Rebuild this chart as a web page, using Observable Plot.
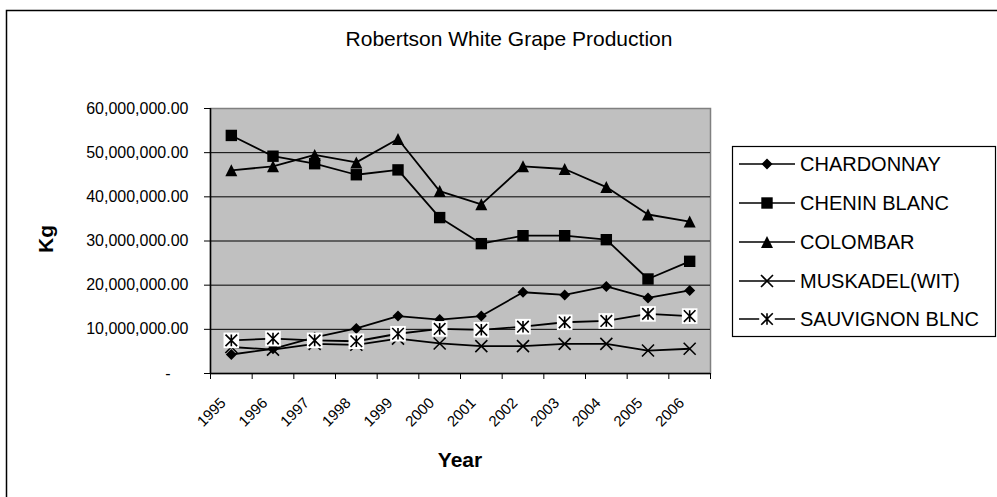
<!DOCTYPE html>
<html>
<head>
<meta charset="utf-8">
<script src="https://cdn.jsdelivr.net/npm/d3@7"></script>
<script src="https://cdn.jsdelivr.net/npm/@observablehq/plot@0.6"></script>
<style>
  html, body { margin: 0; padding: 0; background: #fff; }
  #chart svg { display: block; }
</style>
</head>
<body>
<div id="chart"></div>
<script>
// ---- Data (kg) ----
const years = [1995, 1996, 1997, 1998, 1999, 2000, 2001, 2002, 2003, 2004, 2005, 2006];
const chardonnay = [4300000, 5600000, 8200000, 10200000, 13000000, 12200000, 13000000, 18400000, 17800000, 19700000, 17100000, 18800000];
const cheninBlanc = [53900000, 49200000, 47500000, 45000000, 46100000, 35300000, 29400000, 31200000, 31200000, 30300000, 21400000, 25400000];
const colombar = [46000000, 46900000, 49500000, 47800000, 53100000, 41300000, 38300000, 46900000, 46300000, 42200000, 36000000, 34400000];
const muskadel = [6000000, 5400000, 6700000, 6500000, 7900000, 6800000, 6200000, 6200000, 6700000, 6700000, 5200000, 5600000];
const sauvignon = [7500000, 7900000, 7500000, 7300000, 9000000, 10100000, 9900000, 10600000, 11600000, 11900000, 13500000, 13000000];
const seriesNames = ["CHARDONNAY", "CHENIN BLANC", "COLOMBAR", "MUSKADEL(WIT)", "SAUVIGNON BLNC"];
const yTicks = [0, 10000000, 20000000, 30000000, 40000000, 50000000, 60000000];
const titleText = "Robertson White Grape Production";
const xTitle = "Year";
const yTitle = "Kg";

// ---- Symbols (r = half-extent) ----
const rOf = s => Math.sqrt(s / Math.PI);
const diamondSym = {draw(c, s) { const r = rOf(s); c.moveTo(0, -r); c.lineTo(r, 0); c.lineTo(0, r); c.lineTo(-r, 0); c.closePath(); }};
const squareSym = {draw(c, s) { const r = rOf(s); c.moveTo(-r, -r); c.lineTo(r, -r); c.lineTo(r, r); c.lineTo(-r, r); c.closePath(); }};
const triangleSym = {draw(c, s) { const r = rOf(s); c.moveTo(0, -r); c.lineTo(r, r); c.lineTo(-r, r); c.closePath(); }};
const timesSym = {draw(c, s) { const r = rOf(s); c.moveTo(-r, -r); c.lineTo(r, r); c.moveTo(r, -r); c.lineTo(-r, r); }};
const starSym = {draw(c, s) { const r = rOf(s); c.moveTo(-r, -r); c.lineTo(r, r); c.moveTo(r, -r); c.lineTo(-r, r); c.moveTo(0, -r); c.lineTo(0, r); }};

const seriesValues = [chardonnay, cheninBlanc, colombar, muskadel, sauvignon];
const markerSpec = [
  {sym: diamondSym, r: 5.5, filled: true},
  {sym: squareSym, r: 5.7, filled: true},
  {sym: triangleSym, r: 6, filled: true},
  {sym: timesSym, r: 6, filled: false},
  {sym: starSym, r: 5.8, filled: false, box: true}
];

const rows = [];
seriesNames.forEach((name, i) => {
  years.forEach((yr, j) => rows.push({series: name, year: yr, value: seriesValues[i][j]}));
});

const bounds = years.map(y => y - 0.5).concat([years[years.length - 1] + 0.5]);
const gridVals = yTicks.filter(v => v > 0 && v < 60000000);
const fmt = d3.format(",.2f");

const W = 997, H = 497;
const font = "'Liberation Sans', Arial, sans-serif";

const dotMarks = [];
seriesNames.forEach((name, i) => {
  const m = markerSpec[i];
  const data = rows.filter(d => d.series === name);
  if (m.box) {
    dotMarks.push(Plot.dot(data, {x: "year", y: "value", symbol: squareSym, r: 7.8, fill: "white", stroke: null}));
  }
  dotMarks.push(Plot.dot(data, m.filled
    ? {x: "year", y: "value", symbol: m.sym, r: m.r, fill: "black", stroke: null}
    : {x: "year", y: "value", symbol: m.sym, r: m.r, fill: "none", stroke: "black", strokeWidth: 1.6}));
});

const chart = Plot.plot({
  width: W,
  height: H,
  marginLeft: 210,
  marginRight: 287,
  marginTop: 108,
  marginBottom: 124,
  style: {fontFamily: font, fontSize: "16px", background: "white", color: "black", overflow: "visible"},
  x: {type: "linear", domain: [bounds[0], bounds[bounds.length - 1]], label: null},
  y: {domain: [0, 60000000], label: null},
  marks: [
    Plot.frame({fill: "#C0C0C0", stroke: "#808080", strokeWidth: 1.5}),
    Plot.ruleY(gridVals, {stroke: "black", strokeWidth: 1}),
    Plot.ruleX([bounds[0]], {stroke: "black", strokeWidth: 1.5}),
    Plot.ruleY([0], {stroke: "black", strokeWidth: 1.5}),
    Plot.axisY({ticks: yTicks, tickSize: 6, tickPadding: 16, fontSize: 16,
      tickFormat: d => d === 0 ? "" : fmt(d)}),
    Plot.text([0], {y: d => d, frameAnchor: "left", dx: -40, text: () => "-", fontSize: 16, textAnchor: "end"}),
    Plot.axisX({ticks: bounds, tickSize: 6, tickFormat: () => ""}),
    Plot.axisX({ticks: years, tickSize: 0, tickPadding: 14, tickRotate: -45, fontSize: 15, dx: -8, dy: 13, tickFormat: d => String(d)}),
    Plot.line(rows, {x: "year", y: "value", z: "series", stroke: "black", strokeWidth: 1.8}),
    ...dotMarks
  ]
});

document.getElementById("chart").appendChild(chart);

// ---- Decorations: border, titles, legend ----
const svg = d3.select(chart);
svg.insert("rect", ":first-child")
  .attr("x", 6.5).attr("y", 10.5).attr("width", 1200).attr("height", 700)
  .attr("fill", "white").attr("stroke", "black").attr("stroke-width", 1.5);

svg.append("text").text(titleText)
  .attr("x", 509).attr("y", 46).attr("text-anchor", "middle")
  .attr("font-family", font).attr("font-size", 21).attr("fill", "black");

svg.append("text").text(xTitle)
  .attr("x", 460).attr("y", 467).attr("text-anchor", "middle")
  .attr("font-family", font).attr("font-size", 21).attr("font-weight", "bold").attr("fill", "black");

svg.append("text").text(yTitle)
  .attr("transform", "translate(53,239) rotate(-90)").attr("text-anchor", "middle")
  .attr("font-family", font).attr("font-size", 21).attr("font-weight", "bold").attr("fill", "black");

const lg = svg.append("g").attr("text-anchor", "start");
lg.append("rect").attr("x", 732.5).attr("y", 146.5).attr("width", 263).attr("height", 190)
  .attr("fill", "white").attr("stroke", "black").attr("stroke-width", 1.2);
const rowY = [164, 203, 242, 281, 319];
seriesNames.forEach((name, i) => {
  const y = rowY[i];
  const m = markerSpec[i];
  lg.append("line").attr("x1", 739).attr("x2", 795).attr("y1", y).attr("y2", y)
    .attr("stroke", "black").attr("stroke-width", 1.7);
  if (m.box) {
    lg.append("path").attr("transform", `translate(767,${y})`)
      .attr("d", d3.symbol(squareSym, Math.PI * 7.8 * 7.8)()).attr("fill", "white");
  }
  const p = lg.append("path").attr("transform", `translate(767,${y})`)
    .attr("d", d3.symbol(m.sym, Math.PI * m.r * m.r)());
  if (m.filled) p.attr("fill", "black");
  else p.attr("fill", "none").attr("stroke", "black").attr("stroke-width", 1.6);
  lg.append("text").text(name).attr("x", 800).attr("y", y).attr("dy", "0.35em")
    .attr("text-anchor", "start")
    .attr("font-family", font).attr("font-size", 20).attr("fill", "black");
});
</script>
</body>
</html>
